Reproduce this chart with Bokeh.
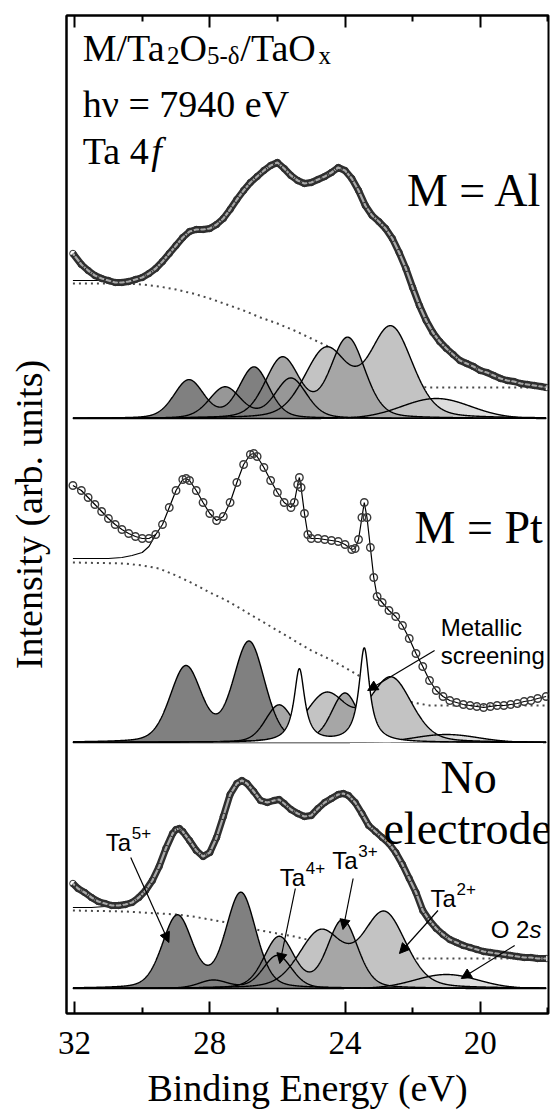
import numpy as np
from bokeh.plotting import figure
from bokeh.models import Range1d, LinearAxis, FixedTicker, Label, Arrow, NormalHead
from bokeh.embed import file_html
from bokeh.resources import INLINE

# ---------------- data ----------------
# Binding energy (eV); intensities in arb. units, relative to each panel's component baseline
al_energy = [32.05, 31.8, 31.6, 31.4, 31.2, 31.0, 30.8, 30.6, 30.4, 30.2, 30.0, 29.8, 29.6, 29.4, 29.2, 29.0,
             28.8, 28.6, 28.4, 28.2, 28.0, 27.8, 27.6, 27.4, 27.2, 27.0, 26.8, 26.6, 26.4, 26.2, 26.0,
             25.8, 25.6, 25.4, 25.2, 25.0, 24.8, 24.6, 24.4, 24.2, 24.0, 23.8, 23.6, 23.4, 23.2, 23.0,
             22.8, 22.6, 22.4, 22.2, 22.0, 21.8, 21.6, 21.4, 21.2, 21.0, 20.8, 20.6, 20.4, 20.2, 20.0,
             19.8, 19.6, 19.4, 19.2, 19.0, 18.8, 18.6, 18.4, 18.2, 18.05]
al_counts = [165, 154, 148, 143, 140, 138, 136, 136, 137, 139, 141, 145, 150, 157, 165, 173,
             181, 187, 189, 189, 190, 194, 200, 209, 219, 228, 236, 242, 248, 253, 256,
             250, 243, 238, 235, 236, 239, 242, 246, 251, 248, 240, 228, 213, 203, 197,
             190, 180, 166, 150, 131, 113, 98, 86, 77, 70, 64, 58, 55, 52, 48,
             46, 43, 40, 38, 37, 35, 34, 33, 32, 31]
al_fit_left_energy = [32.05, 31.6, 31.2, 30.8]
al_fit_left = [138, 138, 138, 136]

pt_energy = [32.05, 31.8, 31.6, 31.4, 31.2, 31.0, 30.8, 30.6, 30.4, 30.2, 30.0, 29.8, 29.6, 29.4, 29.2, 29.0,
             28.8, 28.7, 28.6, 28.4, 28.2, 28.0, 27.8, 27.6, 27.4, 27.2, 27.0, 26.8, 26.7, 26.6, 26.4, 26.2,
             26.0, 25.8, 25.6, 25.5, 25.4, 25.35, 25.3, 25.2, 25.1, 25.0, 24.8, 24.6, 24.4, 24.2, 24.0,
             23.8, 23.7, 23.6, 23.5, 23.43, 23.35, 23.25, 23.15, 23.05, 22.9, 22.7, 22.5, 22.3, 22.1,
             21.9, 21.7, 21.5, 21.3, 21.1, 20.9, 20.7, 20.5, 20.3, 20.1, 19.9, 19.7, 19.5, 19.3, 19.1,
             18.9, 18.7, 18.5, 18.3, 18.05]
pt_counts = [257, 252, 245, 238, 231, 224, 218, 213, 209, 206, 204, 204, 208, 218, 235, 252,
             263, 264, 262, 252, 240, 229, 222, 226, 240, 260, 278, 288, 289, 286, 275, 262,
             250, 240, 235, 240, 258, 265, 255, 229, 208, 204, 204, 203, 202, 201, 198,
             193, 194, 203, 225, 240, 225, 195, 165, 146, 140, 132, 126, 117, 104,
             89, 76, 62, 52, 46, 42, 40, 38, 37, 36, 35, 36, 37, 37, 38,
             39, 41, 42, 44, 46]
pt_fit_left_energy = [32.05, 31.0, 30.6, 30.3, 30.0, 29.8, 29.6]
pt_fit_left = [184, 184, 185, 187, 190, 196, 208]

no_energy = [32.05, 31.9, 31.7, 31.5, 31.3, 31.1, 30.9, 30.7, 30.5, 30.3, 30.1, 29.9, 29.7, 29.5, 29.3, 29.1,
             29.0, 28.9, 28.8, 28.6, 28.4, 28.2, 28.0, 27.8, 27.6, 27.4, 27.2, 27.05, 26.9, 26.7, 26.5,
             26.3, 26.1, 25.95, 25.8, 25.6, 25.4, 25.2, 25.0, 24.8, 24.6, 24.4, 24.2, 24.05, 23.9, 23.7,
             23.5, 23.3, 23.1, 22.9, 22.7, 22.5, 22.3, 22.1, 21.9, 21.7, 21.5, 21.3, 21.1, 20.9, 20.7,
             20.5, 20.3, 20.1, 19.9, 19.7, 19.5, 19.3, 19.1, 18.9, 18.7, 18.5, 18.3, 18.05]
no_counts = [105, 100, 96, 91, 87, 85, 83, 83, 84, 86, 91, 98, 108, 122, 140, 155,
             159, 160, 157, 148, 138, 132, 136, 151, 172, 194, 205, 208, 205, 197, 188,
             186, 188, 189, 185, 179, 175, 172, 173, 180, 186, 190, 194, 195, 193, 186,
             175, 163, 157, 151, 145, 136, 124, 110, 96, 78, 68, 60, 54, 49, 46,
             43, 41, 39, 37, 36, 35, 34, 33, 32, 31, 31, 30, 30]
no_fit_left_energy = [32.05, 31.5, 31.1, 30.8]
no_fit_left = [81, 81, 82, 83]

# Shirley-type backgrounds (dotted)
bg_energy = [32.05, 30.5, 30.0, 29.5, 29.0, 28.5, 28.0, 27.5, 27.0, 26.5, 26.0, 25.5, 25.0,
             24.5, 24.0, 23.5, 23.0, 22.5, 22.0, 21.5, 18.05]
al_bg = [135, 135, 134, 132, 129, 125, 120, 114, 108, 101, 95, 88, 80, 72, 62, 52, 43, 36, 32, 31, 31]
pt_bg = [180, 179, 177, 174, 167, 159, 150, 142, 132, 122, 112, 102, 92, 84, 75, 65, 55, 46, 40, 37, 37]
no_bg = [78, 77, 76, 75, 74, 72, 69, 66, 62, 58, 55, 52, 48, 44, 40, 36, 33, 31, 30, 30, 30]

# Fitted components: species, peak position (eV), height, FWHM (eV)
al_peak_species = ["Ta5+", "Ta5+", "Ta4+", "Ta4+", "Ta3+", "Ta3+", "Ta2+", "Ta2+", "O 2s"]
al_peak_center = [26.69, 28.62, 25.60, 27.55, 23.92, 25.85, 22.64, 24.56, 21.30]
al_peak_height = [51, 38, 40, 31, 80, 60, 90, 68, 20]
al_peak_fwhm = [1.05, 1.05, 1.1, 1.1, 1.2, 1.2, 1.5, 1.5, 2.4]

pt_peak_species = ["Ta5+", "Ta5+", "Ta3+", "Ta3+", "Ta2+", "Ta2+", "O 2s", "Metallic", "Metallic"]
pt_peak_center = [26.84, 28.71, 24.00, 25.95, 22.64, 24.55, 21.0, 23.43, 25.35]
pt_peak_height = [100, 75, 49, 37, 64, 48, 8, 94, 73]
pt_peak_fwhm = [1.1, 1.1, 0.95, 0.95, 1.45, 1.45, 2.2, 0.38, 0.38]

no_peak_species = ["Ta5+", "Ta5+", "Ta4+", "Ta4+", "Ta3+", "Ta3+", "Ta2+", "Ta2+", "O 2s"]
no_peak_center = [27.08, 28.96, 26.00, 27.90, 24.07, 25.95, 22.84, 24.72, 21.0]
no_peak_height = [95, 72, 33, 8, 68, 51, 75, 56, 14]
no_peak_fwhm = [1.05, 1.05, 1.0, 1.0, 1.05, 1.05, 1.5, 1.5, 2.2]

# vertical offsets of the three stacked spectra
panel_offset = {"Al": 595, "Pt": 271, "No": 25}

x_ticks = [32, 28, 24, 20]
x_minor_ticks = [30, 26, 22, 18]

# ---------------- styling ----------------
SERIF = "Liberation Serif"
SANS = "Liberation Sans"
species_order = ["O 2s", "Ta2+", "Ta3+", "Ta4+", "Ta5+"]
species_fill = {"O 2s": "#dedede", "Ta2+": "#c3c3c3", "Ta3+": "#a6a6a6",
                "Ta4+": "#979797", "Ta5+": "#808080", "Metallic": "#ffffff"}
species_eta = {"O 2s": 0.0, "Ta2+": 0.25, "Ta3+": 0.25, "Ta4+": 0.25, "Ta5+": 0.25, "Metallic": 1.0}

p = figure(frame_width=482, frame_height=998, output_backend="svg", toolbar_location=None,
           x_range=Range1d(32.24, 17.98), y_range=Range1d(0, 998),
           min_border_left=66, min_border_right=5, min_border_top=15, min_border_bottom=0,
           background_fill_color="white", border_fill_color="white")
p.xgrid.visible = False
p.ygrid.visible = False
p.outline_line_color = "black"
p.outline_line_width = 2

ticker = FixedTicker(ticks=x_ticks, minor_ticks=x_minor_ticks)


def style_x_axis(ax):
    ax.ticker = ticker
    ax.axis_line_width = 2
    ax.major_tick_in = 12
    ax.major_tick_out = 0
    ax.minor_tick_in = 6
    ax.minor_tick_out = 0
    ax.major_tick_line_width = 2
    ax.minor_tick_line_width = 2


xa = p.xaxis[0]
style_x_axis(xa)
xa.major_label_text_font = SERIF
xa.major_label_text_font_size = "33px"
xa.major_label_text_color = "black"
xa.major_label_standoff = 18
xa.axis_label = "Binding Energy (eV)"
xa.axis_label_text_font = SERIF
xa.axis_label_text_font_size = "38px"
xa.axis_label_text_font_style = "normal"
xa.axis_label_text_color = "black"
xa.axis_label_standoff = 10

top = LinearAxis()
style_x_axis(top)
top.major_label_overrides = {t: "" for t in x_ticks}
top.major_label_standoff = 0
p.add_layout(top, "above")

ya = p.yaxis[0]
ya.ticker = FixedTicker(ticks=[])
ya.axis_line_width = 2
ya.major_tick_line_color = None
ya.minor_tick_line_color = None
ya.axis_label = "Intensity (arb. units)"
ya.axis_label_text_font = SERIF
ya.axis_label_text_font_size = "38px"
ya.axis_label_text_font_style = "normal"
ya.axis_label_text_color = "black"
ya.axis_label_standoff = 17

grid = np.linspace(32.05, 18.05, 1401)


def profile(centers, heights, fwhms, eta):
    y = np.zeros_like(grid)
    for c, h, w in zip(centers, heights, fwhms):
        d = (grid - c) / w
        y += h * ((1 - eta) * np.exp(-4 * np.log(2) * d * d) + eta / (1 + 4 * d * d))
    return y


def draw_panel(key, energy, counts, fit_e, fit_v, bg, species, centers, heights, fwhms, rope):
    off = panel_offset[key]
    # background (behind everything)
    p.line(bg_energy, [off + v for v in bg], line_color="#4a4a4a", line_width=2, line_dash="2 4")
    comps = {}
    for sp in dict.fromkeys(species):
        idx = [i for i, s in enumerate(species) if s == sp]
        comps[sp] = profile([centers[i] for i in idx], [heights[i] for i in idx],
                            [fwhms[i] for i in idx], species_eta[sp])
    for sp in species_order:
        if sp in comps:
            p.varea(x=grid, y1=off, y2=off + comps[sp], fill_color=species_fill[sp])
    for sp in species_order:
        if sp in comps:
            p.line(grid, off + comps[sp], line_color="black", line_width=1.4)
    if "Metallic" in comps:
        p.varea(x=grid, y1=off, y2=off + comps["Metallic"], fill_color="white")
        p.line(grid, off + comps["Metallic"], line_color="black", line_width=1.4)
    # fit envelope (left part where it departs from the data) and measured data
    p.line(fit_e, [off + v for v in fit_v], line_color="black", line_width=1.2)
    ys = [off + v for v in counts]
    if rope:
        p.line(energy, ys, line_color="#2e2e2e", line_width=7, line_join="round")
        p.line(energy, ys, line_color="#a8a8a8", line_width=2.2, line_join="round")
        p.scatter(energy, ys, marker="circle", size=6.5, fill_color=None,
                  line_color="#2e2e2e", line_width=1.0)
    else:
        p.line(energy, ys, line_color="black", line_width=1.2)
        p.scatter(energy, ys, marker="circle", size=7.5, fill_color=None,
                  line_color="#3a3a3a", line_width=1.4)


draw_panel("Al", al_energy, al_counts, al_fit_left_energy, al_fit_left, al_bg,
           al_peak_species, al_peak_center, al_peak_height, al_peak_fwhm, True)
draw_panel("Pt", pt_energy, pt_counts, pt_fit_left_energy, pt_fit_left, pt_bg,
           pt_peak_species, pt_peak_center, pt_peak_height, pt_peak_fwhm, False)
draw_panel("No", no_energy, no_counts, no_fit_left_energy, no_fit_left, no_bg,
           no_peak_species, no_peak_center, no_peak_height, no_peak_fwhm, True)


def label(x, y, text, size, font=SERIF, style="normal", align="left", dx=0, dy=0):
    p.add_layout(Label(x=x, y=y, text=text, text_font=font, text_font_size=f"{size}px",
                       text_font_style=style, text_align=align, text_baseline="alphabetic",
                       x_offset=dx, y_offset=dy, text_color="black"))


# title block (top left)
label(31.76, 966, "M/Ta", 38)
label(31.76, 966, "2", 25, dx=84.4, dy=-8)
label(31.76, 966, "O", 38, dx=96.9)
label(31.76, 966, "5-δ", 25, dx=124.3, dy=-8)
label(31.76, 966, "/TaO", 38, dx=157.6)
label(31.76, 966, "x", 25, dx=235.7, dy=-8)
label(31.76, 910, "hν = 7940 eV", 38)
label(31.76, 863, "Ta 4", 38)
label(31.76, 863, "f", 38, style="italic", dx=68.6)

# panel labels
label(18.15, 823, "M = Al", 46, align="right")
label(18.15, 486, "M = Pt", 46, align="right")
label(20.34, 236, "No", 46, align="center")
label(20.37, 185, "electrode", 46, align="center")

# annotations
label(21.17, 386, "Metallic", 24, font=SANS)
label(21.17, 358, "screening", 24, font=SANS)


def ta_label(x, y, charge):
    label(x, y, "Ta", 24, font=SANS)
    label(x, y, charge, 17, font=SANS, dx=26, dy=10)


ta_label(31.08, 171, "5+")
ta_label(25.93, 136, "4+")
ta_label(24.38, 153, "3+")
ta_label(21.47, 115, "2+")
label(19.69, 84, "O 2", 24, font=SANS)
label(19.69, 84, "s", 24, font=SANS, style="italic", dx=38.7)


def arrow(xs, ys, xe, ye):
    p.add_layout(Arrow(end=NormalHead(size=10, fill_color="black", line_color="black", line_width=1),
                       x_start=xs, y_start=ys, x_end=xe, y_end=ye,
                       line_color="black", line_width=1.2))


arrow(30.34, 156, 29.21, 71)    # Ta5+
arrow(25.47, 125, 25.93, 50)    # Ta4+
arrow(23.76, 135, 24.06, 84)    # Ta3+
arrow(21.25, 103, 22.39, 60)    # Ta2+
arrow(18.98, 68, 20.56, 35)     # O 2s
arrow(21.35, 363, 23.33, 323)   # metallic screening

open("out.html", "w").write(file_html(p, INLINE))
